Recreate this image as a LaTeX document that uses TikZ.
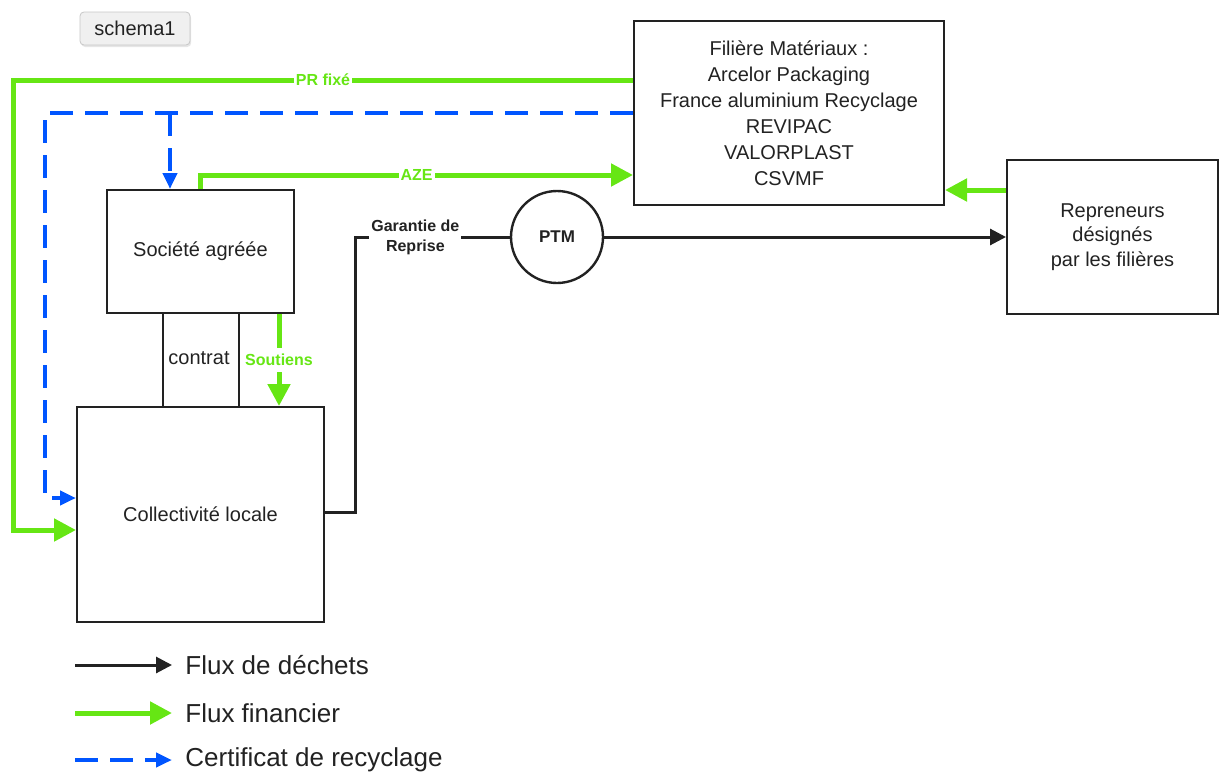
\documentclass[tikz,border=0pt]{standalone}
\usepackage{fontspec}
\setmainfont{Liberation Sans}
\usepackage{tikz}
\usetikzlibrary{arrows.meta,shadows}
\definecolor{vert}{RGB}{102,230,20}
\definecolor{bleu}{RGB}{0,85,255}
\definecolor{encre}{RGB}{34,34,34}

\begin{document}
\begin{tikzpicture}[x=0.5pt,y=-0.5pt,
		boite/.style={draw=encre,line width=1pt,inner sep=0pt,align=center,text=encre,font=\fontsize{10}{13}\selectfont},
		dechet/.style={encre,line width=1.5pt,-{Triangle[length=8pt,width=8pt]}},
		fin/.style={vert,line width=2.5pt,-{Triangle[length=11pt,width=11pt]}},
		cert/.style={bleu,line width=2pt,dash pattern=on 11.5pt off 6pt,-{Triangle[length=8pt,width=7pt]}},
		etiq/.style={fill=white,inner xsep=1pt,inner ysep=3pt,font=\fontsize{8}{10}\selectfont\bfseries},
		legende/.style={anchor=west,inner xsep=6.5pt,text=encre,font=\fontsize{13}{15}\selectfont}]
		\useasboundingbox (0,0) rectangle (1220,771);
		%
		\node[draw=black!22,fill=black!6,rounded corners=2pt,text=encre,
			drop shadow={opacity=0.2,shadow xshift=0.6pt,shadow yshift=-1pt},
			minimum width=55pt,minimum height=16.5pt,font=\fontsize{10}{12}\selectfont] (B) at (135,28.5) {schema1};
		%
		\node[boite,minimum width=155pt,minimum height=92pt] (F) at (789,113)
			{Filière Matériaux :\\Arcelor Packaging\\France aluminium Recyclage\\REVIPAC\\VALORPLAST\\CSVMF};
		\node[boite,minimum width=105.5pt,minimum height=77pt,font=\fontsize{10}{12.4}\selectfont] (R) at (1112.5,237)
			{Repreneurs\\désignés\\par les filières};
		\node[boite,minimum width=93.5pt,minimum height=61.5pt] (S) at (200.5,251.5) {Société agréée};
		\node[boite,minimum width=123.5pt,minimum height=107.5pt] (C) at (200.5,514.5) {Collectivité locale};
		\node[draw=encre,circle,line width=1.2pt,minimum size=46pt,inner sep=0pt,text=encre,
			font=\fontsize{8.5}{10}\selectfont\bfseries] (P) at (557,237) {PTM};
		\node[text=encre,font=\fontsize{10}{12}\selectfont] (K) at (199,358) {contrat};
		%
		\coordinate (T) at (170,113);
		%
		\draw[fin] (F.west |- 0,80) -- node[etiq,text=vert]{PR fixé} (13,80) -- (13,530) -- (C.west |- 0,530);
		\draw[cert] (F.west) -- (45,113) -- (45,498) -- (C.west |- 0,498);
		\draw[cert] (T) -- (S.north -| T);
		\draw[fin] (S.north -| 200,0) -- (200,175) -- node[etiq,text=vert]{AZE} (F.west |- 0,175);
		\draw[fin] (R.west |- 0,190) -- (F.east |- 0,190);
		\draw[fin] (S.south -| 279,0) -- node[etiq,text=vert]{Soutiens} (C.north -| 279,0);
		%
		\path[draw=encre,line width=0.8pt]
		(S.south -| 163,0) edge (C.north -| 163,0)
		(S.south -| 239,0) edge (C.north -| 239,0);
		%
		\draw[encre,line width=1.5pt] (C.east |- 0,512) -- (355,512) -- (355,237)
			-- node[etiq,pos=0.39,text=encre,align=center]{Garantie de\\Reprise} (P.west);
		\draw[dechet] (P.east) -- (R.west);
		%
		\node[legende] (L1) at (172,665) {Flux de déchets};
		\node[legende] (L2) at (172,713) {Flux financier};
		\node[legende] (L3) at (172,760) {Certificat de recyclage};
		\coordinate (l1) at (75,665);
		\coordinate (l2) at (75,713);
		\coordinate (l3) at (75,760);
		\draw[dechet] (l1) -- (L1);
		\draw[fin] (l2) -- (L2);
		\draw[cert] (l3) -- (L3);
		\end{tikzpicture}
\end{document}
